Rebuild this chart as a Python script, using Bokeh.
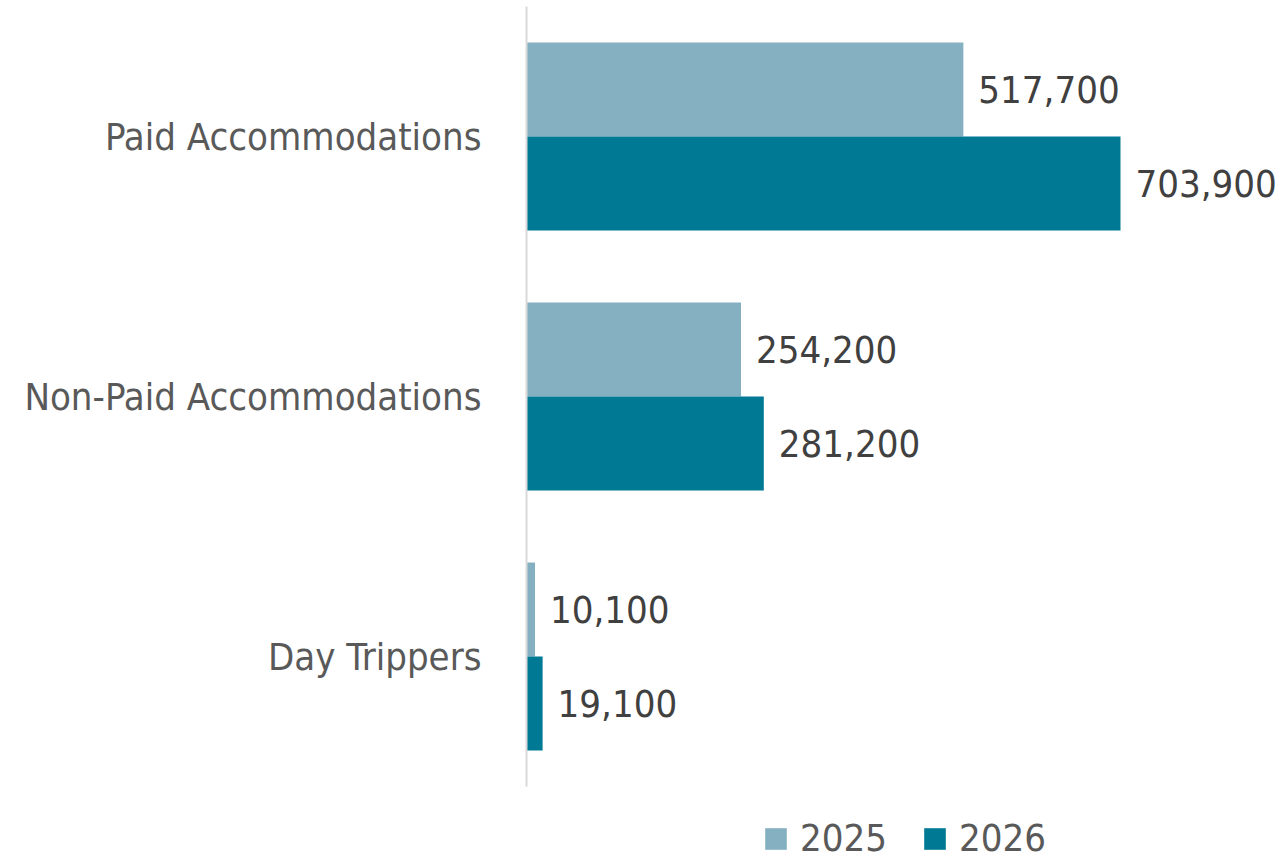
from bokeh.plotting import figure
from bokeh.models import ColumnDataSource, Legend, LegendItem, FixedTicker, Range1d
from bokeh.transform import dodge
from bokeh.core.properties import value
from bokeh.embed import file_html
from bokeh.resources import INLINE

categories = ["Paid Accommodations", "Non-Paid Accommodations", "Day Trippers"]
years = ["2025", "2026"]
values_2025 = [517700, 254200, 10100]
values_2026 = [703900, 281200, 19100]

colors = {"2025": "#85b0c1", "2026": "#007a94"}
FONT = "'DejaVu Sans Condensed', sans-serif"
FS = "38px"

n = len(categories)
ypos = [n - 1 - i for i in range(n)]          # top category at top
FRAME_H = 854
PX_PER_CAT = 260
y_top = n - 0.5
y_bottom = y_top - FRAME_H / PX_PER_CAT        # extra room below for legend

p = figure(frame_width=754, frame_height=FRAME_H, output_backend="svg", toolbar_location=None,
           y_range=Range1d(y_bottom, y_top), x_range=Range1d(0, 893500),
           min_border_left=526, min_border_right=0, min_border_top=6, min_border_bottom=0)
p.outline_line_color = None
p.xgrid.visible = False
p.ygrid.visible = False
p.xaxis.visible = False
p.background_fill_color = "white"
p.border_fill_color = "white"

yax = p.yaxis[0]
yax.ticker = FixedTicker(ticks=ypos)
yax.major_label_overrides = {pos: cat for pos, cat in zip(ypos, categories)}
yax.bounds = (-0.5, n - 0.5)
yax.axis_line_color = "#d9d9d9"
yax.axis_line_width = 2
yax.major_tick_line_color = None
yax.minor_tick_line_color = None
yax.major_tick_out = 0
yax.major_tick_in = 0
yax.major_label_standoff = 45
yax.major_label_text_font = FONT
yax.major_label_text_font_size = FS
yax.major_label_text_color = "#595959"

bar_h = 94 / PX_PER_CAT
offsets = {"2025": bar_h / 2, "2026": -bar_h / 2}
series = {"2025": values_2025, "2026": values_2026}

renderers = {}
for yr in years:
    vals = series[yr]
    src = ColumnDataSource(dict(y=ypos, val=vals, lab=[f"{v:,}" for v in vals]))
    r = p.hbar(y=dodge("y", offsets[yr]), right="val", left=0,
               height=bar_h, source=src, fill_color=colors[yr], line_color=None)
    renderers[yr] = r
    p.text(x="val", y=dodge("y", offsets[yr]), text="lab",
           source=src, x_offset=15, text_baseline="middle", text_align="left",
           text_font=value(FONT), text_font_size=FS, text_color="#404040")

legend = Legend(items=[LegendItem(label=yr, renderers=[renderers[yr]]) for yr in years],
                orientation="horizontal", location=(236, 0))
legend.label_text_font = FONT
legend.label_text_font_size = FS
legend.label_text_color = "#595959"
legend.glyph_width = 27
legend.glyph_height = 27
legend.label_standoff = 11
legend.spacing = 34
legend.padding = 0
legend.margin = 0
legend.border_line_color = None
legend.background_fill_alpha = 0
p.add_layout(legend)

open("out.html", "w").write(file_html(p, INLINE))
